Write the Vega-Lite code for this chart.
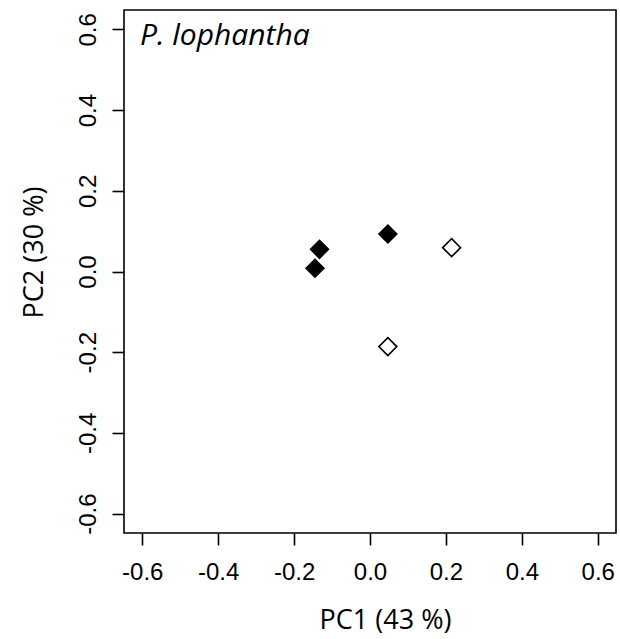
{
  "$schema": "https://vega.github.io/schema/vega-lite/v6.json",
  "width": 492,
  "height": 523,
  "autosize": {"type": "none"},
  "padding": {"left": 124, "top": 10, "right": 4, "bottom": 106},
  "background": "white",
  "config": {
    "view": {"stroke": "black", "strokeWidth": 1.6},
    "axis": {
      "domain": false,
      "grid": false,
      "ticks": true,
      "tickSize": 12,
      "tickWidth": 1.6,
      "tickColor": "black",
      "labelFont": "Liberation Sans",
      "labelFontSize": 24,
      "labelColor": "black",
      "titleFont": "Open Sans",
      "titleFontSize": 27,
      "titleFontWeight": "normal",
      "titleColor": "black"
    }
  },
  "layer": [
    {
      "data": {
        "values": [
          {"pc1": -0.133, "pc2": 0.055, "group": "filled"},
          {"pc1": -0.145, "pc2": 0.008, "group": "filled"},
          {"pc1": 0.047, "pc2": 0.093, "group": "filled"},
          {"pc1": 0.215, "pc2": 0.059, "group": "open"},
          {"pc1": 0.047, "pc2": -0.186, "group": "open"}
        ]
      },
      "mark": {"type": "point", "shape": "diamond", "filled": true, "size": 320, "stroke": "black", "strokeWidth": 1.6, "opacity": 1},
      "encoding": {
        "x": {
          "field": "pc1", "type": "quantitative",
          "scale": {"domain": [-0.648, 0.648], "nice": false, "zero": false},
          "axis": {
            "title": "PC1 (43 %)",
            "values": [-0.6, -0.4, -0.2, 0, 0.2, 0.4, 0.6],
            "format": ".1f",
            "labelExpr": "replace(datum.label, '−', '-')",
            "labelPadding": 34,
            "labelBaseline": "alphabetic",
            "titleX": 261,
            "titleY": 95,
            "titleBaseline": "alphabetic"
          }
        },
        "y": {
          "field": "pc2", "type": "quantitative",
          "scale": {"domain": [-0.648, 0.648], "nice": false, "zero": false},
          "axis": {
            "title": "PC2 (30 %)",
            "values": [-0.6, -0.4, -0.2, 0, 0.2, 0.4, 0.6],
            "format": ".1f",
            "labelExpr": "replace(datum.label, '−', '-')",
            "labelAngle": -90,
            "labelAlign": "center",
            "labelBaseline": "alphabetic",
            "labelPadding": 17,
            "titleAngle": -90,
            "titleX": -82,
            "titleY": 242,
            "titleBaseline": "alphabetic"
          }
        },
        "fill": {
          "field": "group", "type": "nominal",
          "scale": {"domain": ["filled", "open"], "range": ["black", "white"]},
          "legend": null
        }
      }
    },
    {
      "data": {"values": [{"x": -0.606, "y": 0.561, "label": "P. lophantha"}]},
      "mark": {"type": "text", "font": "Open Sans", "fontSize": 30, "fontStyle": "italic", "align": "left", "baseline": "alphabetic", "color": "black"},
      "encoding": {
        "x": {"field": "x", "type": "quantitative"},
        "y": {"field": "y", "type": "quantitative"},
        "text": {"field": "label"}
      }
    }
  ]
}
